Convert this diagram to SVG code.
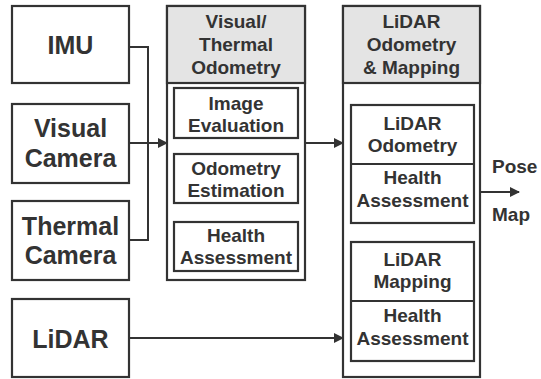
<svg xmlns="http://www.w3.org/2000/svg" width="541" height="379" viewBox="0 0 541 379">
<style>
.box{fill:#fff;stroke:#333;stroke-width:2.2}
.hdr{fill:#e4e4e4;stroke:#333;stroke-width:2.2}
.in{fill:#fff;stroke:#333;stroke-width:2.2}
.t{font-family:"Liberation Sans",Arial,sans-serif;font-weight:bold;fill:#333;text-anchor:middle}
.big{font-size:25px}
.mid{font-size:19px}
.lbl{font-family:"Liberation Sans",Arial,sans-serif;font-weight:bold;fill:#333;font-size:19px}
.ln{fill:none;stroke:#333;stroke-width:2}
</style>
<defs>
<marker id="ah" markerWidth="10" markerHeight="10" refX="9" refY="5" orient="auto" markerUnits="userSpaceOnUse">
<path d="M0,0 L10,5 L0,10 Z" fill="#333"/>
</marker>
</defs>
<rect width="541" height="379" fill="#fff"/>
<g id="imu"><rect class="box" x="12" y="6" width="117" height="77"/><text class="t big" x="70.5" y="54">IMU</text></g>
<g id="visual-camera"><rect class="box" x="12" y="104" width="117" height="79"/><text class="t big" x="70.5" y="137">Visual</text><text class="t big" x="70.5" y="167">Camera</text></g>
<g id="thermal-camera"><rect class="box" x="12" y="201" width="117" height="79"/><text class="t big" x="70.5" y="235">Thermal</text><text class="t big" x="70.5" y="264">Camera</text></g>
<g id="lidar"><rect class="box" x="12" y="299" width="117" height="78"/><text class="t big" x="70.5" y="348">LiDAR</text></g>
<g id="vto">
<rect class="box" x="167" y="6" width="138" height="274"/>
<rect class="hdr" x="167" y="6" width="138" height="77"/>
<text class="t mid" x="236" y="28">Visual/</text><text class="t mid" x="236" y="51">Thermal</text><text class="t mid" x="236" y="74">Odometry</text>
</g>
<g id="image-evaluation"><rect class="in" x="174" y="88" width="124" height="50"/><text class="t mid" x="236" y="110">Image</text><text class="t mid" x="236" y="132">Evaluation</text></g>
<g id="odometry-estimation"><rect class="in" x="174" y="154" width="124" height="49"/><text class="t mid" x="236" y="175">Odometry</text><text class="t mid" x="236" y="197">Estimation</text></g>
<g id="vt-health"><rect class="in" x="174" y="222" width="124" height="49"/><text class="t mid" x="236" y="242">Health</text><text class="t mid" x="236" y="264">Assessment</text></g>
<g id="lom">
<rect class="box" x="343" y="6" width="137" height="371"/>
<rect class="hdr" x="343" y="6" width="137" height="77"/>
<text class="t mid" x="411.5" y="28">LiDAR</text><text class="t mid" x="411.5" y="51">Odometry</text><text class="t mid" x="411.5" y="74">&amp; Mapping</text>
</g>
<g id="lidar-odometry"><rect class="in" x="351" y="105" width="123" height="118"/><line class="ln" x1="351" y1="164" x2="474" y2="164" stroke-width="2.2"/><text class="t mid" x="412.5" y="130">LiDAR</text><text class="t mid" x="412.5" y="152">Odometry</text><text class="t mid" x="412.5" y="184">Health</text><text class="t mid" x="412.5" y="207">Assessment</text></g>
<g id="lidar-mapping"><rect class="in" x="351" y="242" width="123" height="119"/><line class="ln" x1="351" y1="301" x2="474" y2="301" stroke-width="2.2"/><text class="t mid" x="412.5" y="266">LiDAR</text><text class="t mid" x="412.5" y="288">Mapping</text><text class="t mid" x="412.5" y="322">Health</text><text class="t mid" x="412.5" y="345">Assessment</text></g>
<g id="outputs"><text class="lbl" x="492" y="173">Pose</text><text class="lbl" x="492" y="221">Map</text></g>
<g id="connectors">
<polyline class="ln" points="129,47 148,47 148,240 129,240"/>
<line class="ln" x1="129" y1="143" x2="167" y2="143" marker-end="url(#ah)"/>
<line class="ln" x1="305" y1="143" x2="343" y2="143" marker-end="url(#ah)"/>
<line class="ln" x1="129" y1="338" x2="343" y2="338" marker-end="url(#ah)"/>
<line class="ln" x1="480" y1="192" x2="519" y2="192" marker-end="url(#ah)"/>
</g>
</svg>
